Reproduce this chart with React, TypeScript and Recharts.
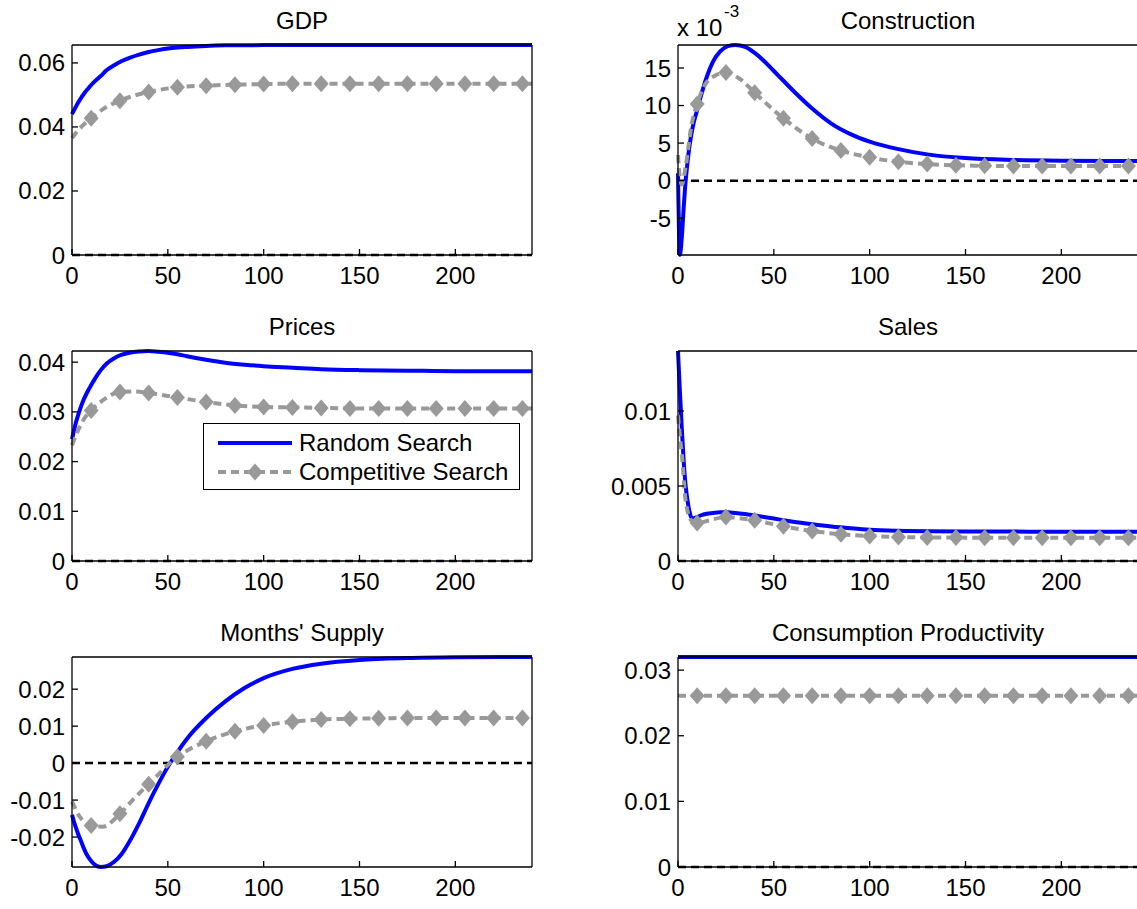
import { LineChart, Line, XAxis, YAxis, ReferenceLine, Legend } from 'recharts';

// time grids (months)
const tFine = [0, 1, 2, 3, 4, 5, 6, 7, 8, 10, 12, 15, 18, 22, 26, 30, 35, 40, 45, 50, 55, 60, 70, 80, 90, 100, 115, 130, 150, 175, 200, 240];
const tComp = [0, 1, 2, 4, 7, 10, 16, 25, 32, 40, 55, 70, 85, 100, 115, 130, 145, 160, 175, 190, 205, 220, 235, 240];
const markT = [10, 25, 40, 55, 70, 85, 100, 115, 130, 145, 160, 175, 190, 205, 220, 235];
const tFlat = [0, 240];
const xTicks = [0, 50, 100, 150, 200];

// GDP
const gdpRandom = [0.0440, 0.0452, 0.0463, 0.0474, 0.0484, 0.0493, 0.0502, 0.0510, 0.0517, 0.0531, 0.0543, 0.0559, 0.0577, 0.0593, 0.0606, 0.0616, 0.0626, 0.0634, 0.0640, 0.0645, 0.0648, 0.0650, 0.0653, 0.0655, 0.0655, 0.0656, 0.0656, 0.0656, 0.0656, 0.0656, 0.0656, 0.0656];
const gdpCompetitive = [0.0365, 0.0373, 0.0381, 0.0395, 0.0412, 0.0427, 0.0455, 0.0482, 0.0497, 0.0509, 0.0524, 0.0529, 0.0532, 0.0534, 0.0535, 0.0535, 0.0535, 0.0535, 0.0535, 0.0535, 0.0535, 0.0535, 0.0535, 0.0535];

// Construction
const constructionRandom = [0.0010, -0.0099, -0.0075, -0.0035, 0.0000, 0.0025, 0.0046, 0.0062, 0.0075, 0.0094, 0.0113, 0.0138, 0.0157, 0.0172, 0.0179, 0.01806, 0.0178, 0.0170, 0.0159, 0.0146, 0.0133, 0.0120, 0.0096, 0.0076, 0.0062, 0.0052, 0.0042, 0.0035, 0.0030, 0.00275, 0.00265, 0.0026];
const constructionCompetitive = [0.0034, 0.0003, -0.0005, 0.0019, 0.0073, 0.0102, 0.0134, 0.0144, 0.0136, 0.0117, 0.0083, 0.0056, 0.0040, 0.0031, 0.0025, 0.0022, 0.00205, 0.00198, 0.00195, 0.00195, 0.00195, 0.00195, 0.00195, 0.00195];

// Prices
const pricesRandom = [0.0245, 0.0262, 0.0278, 0.0291, 0.0303, 0.0314, 0.0324, 0.0332, 0.0340, 0.0354, 0.0367, 0.0384, 0.0397, 0.0408, 0.0415, 0.0419, 0.04215, 0.04225, 0.0421, 0.0419, 0.0416, 0.0412, 0.0405, 0.0399, 0.0395, 0.0392, 0.0389, 0.0386, 0.0384, 0.0383, 0.0382, 0.0382];
const pricesCompetitive = [0.0233, 0.0243, 0.0252, 0.0270, 0.0290, 0.0303, 0.0323, 0.0340, 0.0341, 0.0338, 0.0329, 0.0320, 0.0313, 0.0310, 0.0309, 0.0308, 0.0307, 0.0307, 0.0307, 0.0307, 0.0307, 0.0307, 0.0307, 0.0307];

// Sales
const salesRandom = [0.0140, 0.0113, 0.0088, 0.0066, 0.0050, 0.0040, 0.0033, 0.0029, 0.00285, 0.00293, 0.00305, 0.00315, 0.0032, 0.00325, 0.00325, 0.0032, 0.00313, 0.00303, 0.00293, 0.00283, 0.00272, 0.00262, 0.00245, 0.0023, 0.00218, 0.00208, 0.00201, 0.00198, 0.00197, 0.00196, 0.00195, 0.00195];
const salesCompetitive = [0.0097, 0.0083, 0.0071, 0.0040, 0.0027, 0.00253, 0.0027, 0.00293, 0.00285, 0.00271, 0.00231, 0.0020, 0.00178, 0.00167, 0.0016, 0.00157, 0.00156, 0.00155, 0.00155, 0.00155, 0.00155, 0.00155, 0.00155, 0.00155];

// Months' Supply
const supplyRandom = [-0.0140, -0.0158, -0.0174, -0.0189, -0.0202, -0.0215, -0.0228, -0.0240, -0.0250, -0.0265, -0.0275, -0.0281, -0.0279, -0.0267, -0.0245, -0.0212, -0.0163, -0.0108, -0.0057, -0.0010, 0.0030, 0.0066, 0.0122, 0.0167, 0.0203, 0.0230, 0.0255, 0.0269, 0.0279, 0.0284, 0.0286, 0.0287];
const supplyCompetitive = [-0.0104, -0.0115, -0.0126, -0.0145, -0.0161, -0.0169, -0.0172, -0.0137, -0.0098, -0.0057, 0.0017, 0.0059, 0.0086, 0.0102, 0.0112, 0.0118, 0.0120, 0.0121, 0.0122, 0.0122, 0.0122, 0.0122, 0.0122, 0.0122];

// Consumption Productivity
const consumptionRandom = [0.0320, 0.0320];
const consumptionCompetitive = [0.0261, 0.0261, 0.0261, 0.0261, 0.0261, 0.0261, 0.0261, 0.0261, 0.0261, 0.0261, 0.0261, 0.0261, 0.0261, 0.0261, 0.0261, 0.0261, 0.0261, 0.0261, 0.0261, 0.0261, 0.0261, 0.0261, 0.0261, 0.0261];

const FONT = '"Liberation Sans", Arial, Helvetica, sans-serif';
const FS = 24;
const BLUE = '#0000ff';
const GRAY = '#999999';
const PW = 460; // plot width
const PH = 210; // plot height
const YW = 80; // y axis width
const XH = 40; // x axis height
const M = 6;

const markSet = new Set(markT);

const Diamond = (props: any) => {
    const { cx, cy, payload, index } = props;
    if (cx == null || cy == null || !markSet.has(payload.t)) return <g key={`n-${index}`} />;
    return (
        <path
            key={`d-${index}`}
            d={`M${cx},${cy - 8.5}L${cx + 7.5},${cy}L${cx},${cy + 8.5}L${cx - 7.5},${cy}Z`}
            fill={GRAY}
        />
    );
};

const LegendBox = (props: any) => {
    // blue (random) first, like the figure; skip the hidden helper line
    const items = (props.payload || [])
        .filter((e: any) => e.type !== 'none')
        .sort((a: any, b: any) => (a.color === BLUE ? -1 : b.color === BLUE ? 1 : 0));
    return (
        <div
            style={{
                width: 317,
                height: 67,
                border: '1.3px solid #000',
                boxSizing: 'border-box',
                background: '#fff',
                fontFamily: FONT,
                fontSize: FS,
                paddingTop: 4,
            }}
        >
            {items.map((entry: any, i: number) => (
                <div key={i} style={{ display: 'flex', alignItems: 'center', height: 29 }}>
                    <svg width={95} height={20} style={{ flex: 'none' }}>
                        {entry.color === BLUE ? (
                            <line x1={14} x2={88} y1={10} y2={10} stroke={entry.color} strokeWidth={4} />
                        ) : (
                            <g>
                                <line x1={14} x2={88} y1={10} y2={10} stroke={entry.color} strokeWidth={4} strokeDasharray="8 5" />
                                <path d="M51,1.5L58.5,10L51,18.5L43.5,10Z" fill={entry.color} />
                            </g>
                        )}
                    </svg>
                    <span style={{ color: '#000' }}>{entry.value}</span>
                </div>
            ))}
        </div>
    );
};

const plain = (v: number) => String(v);
const milli = (v: number) => String(Math.round(v * 1000));

type PanelProps = {
    title: string;
    left: number;
    top: number;
    randomT: number[];
    random: number[];
    competitive: number[];
    domain: [number, number];
    yTicks: number[];
    fmt: (v: number) => string;
    legend?: boolean;
    exponent?: boolean;
};

const axisLine = { stroke: '#000', strokeWidth: 1.3 };
const tickStyle = { fill: '#000', fontSize: FS, fontFamily: FONT };

const Panel = ({ title, left, top, randomT, random, competitive, domain, yTicks, fmt, legend, exponent }: PanelProps) => {
    const randomData = randomT.map((t, i) => ({ t, v: random[i] }));
    const competitiveData = tComp.map((t, i) => ({ t, v: competitive[i] }));
    return (
        <>
            <div
                style={{
                    position: 'absolute',
                    left,
                    top: top - 37,
                    width: PW,
                    textAlign: 'center',
                    fontSize: FS,
                    lineHeight: '26px',
                    fontFamily: FONT,
                }}
            >
                {title}
            </div>
            {exponent && (
                <>
                    <div style={{ position: 'absolute', left: left - 1, top: top - 30, fontSize: FS, lineHeight: '26px', fontFamily: FONT }}>
                        x 10
                    </div>
                    <div style={{ position: 'absolute', left: left + 46, top: top - 43, fontSize: 17, lineHeight: '20px', fontFamily: FONT }}>
                        -3
                    </div>
                </>
            )}
            <div style={{ position: 'absolute', left: left - YW, top: top - M }}>
                <LineChart width={YW + PW + M} height={M + PH + XH} margin={{ top: M - 1, right: M - 1, bottom: 0, left: 0 }}>
                    <XAxis
                        type="number"
                        dataKey="t"
                        domain={[0, 240]}
                        ticks={xTicks}
                        height={XH}
                        axisLine={axisLine}
                        tickLine={axisLine}
                        tickSize={-6}
                        tickMargin={18}
                        tick={tickStyle}
                    />
                    <XAxis
                        xAxisId="top"
                        orientation="top"
                        type="number"
                        dataKey="t"
                        domain={[0, 240]}
                        ticks={xTicks}
                        height={1}
                        axisLine={axisLine}
                        tickLine={axisLine}
                        tickSize={-6}
                        tick={false}
                    />
                    <YAxis
                        type="number"
                        domain={domain}
                        ticks={yTicks}
                        width={YW}
                        axisLine={axisLine}
                        tickLine={axisLine}
                        tickSize={-6}
                        tickMargin={13}
                        tick={tickStyle}
                        tickFormatter={fmt}
                    />
                    <YAxis
                        yAxisId="right"
                        orientation="right"
                        type="number"
                        domain={domain}
                        ticks={yTicks}
                        width={1}
                        axisLine={axisLine}
                        tickLine={axisLine}
                        tickSize={-6}
                        tick={false}
                    />
                    {/* invisible copy so the top / right box axes get drawn */}
                    <Line
                        xAxisId="top"
                        yAxisId="right"
                        data={randomData}
                        dataKey="v"
                        stroke="none"
                        dot={false}
                        legendType="none"
                        isAnimationActive={false}
                    />
                    <ReferenceLine y={0} stroke="#000" strokeWidth={2.5} strokeDasharray="8 5" />
                    <Line
                        data={randomData}
                        dataKey="v"
                        name="Random Search"
                        type="monotone"
                        stroke={BLUE}
                        strokeWidth={4}
                        dot={false}
                        isAnimationActive={false}
                    />
                    <Line
                        data={competitiveData}
                        dataKey="v"
                        name="Competitive Search"
                        type="monotone"
                        stroke={GRAY}
                        strokeWidth={4}
                        strokeDasharray="8 5"
                        dot={Diamond}
                        isAnimationActive={false}
                    />
                    {legend && (
                        <Legend
                            layout="horizontal"
                            verticalAlign="middle"
                            align="center"
                            wrapperStyle={{ left: 211, top: 78, width: 317 }}
                            content={LegendBox}
                        />
                    )}
                </LineChart>
            </div>
        </>
    );
};

const LEFT_COL = 72;
const RIGHT_COL = 678;
const ROWS = [45, 351, 657];

const App = () => {
    return (
        <div
            style={{
                position: 'absolute',
                left: 0,
                top: 0,
                width: 1137,
                height: 909,
                overflow: 'hidden',
                background: '#fff',
                fontFamily: FONT,
            }}
        >
            <Panel title="GDP" left={LEFT_COL} top={ROWS[0]} randomT={tFine} random={gdpRandom} competitive={gdpCompetitive} domain={[0, 0.0656]} yTicks={[0, 0.02, 0.04, 0.06]} fmt={plain} />
            <Panel title="Construction" left={RIGHT_COL} top={ROWS[0]} randomT={tFine} random={constructionRandom} competitive={constructionCompetitive} domain={[-0.0099, 0.01806]} yTicks={[-0.005, 0, 0.005, 0.01, 0.015]} fmt={milli} exponent />
            <Panel title="Prices" left={LEFT_COL} top={ROWS[1]} randomT={tFine} random={pricesRandom} competitive={pricesCompetitive} domain={[0, 0.04225]} yTicks={[0, 0.01, 0.02, 0.03, 0.04]} fmt={plain} legend />
            <Panel title="Sales" left={RIGHT_COL} top={ROWS[1]} randomT={tFine} random={salesRandom} competitive={salesCompetitive} domain={[0, 0.014]} yTicks={[0, 0.005, 0.01]} fmt={plain} />
            <Panel title="Months' Supply" left={LEFT_COL} top={ROWS[2]} randomT={tFine} random={supplyRandom} competitive={supplyCompetitive} domain={[-0.0281, 0.0287]} yTicks={[-0.02, -0.01, 0, 0.01, 0.02]} fmt={plain} />
            <Panel title="Consumption Productivity" left={RIGHT_COL} top={ROWS[2]} randomT={tFlat} random={consumptionRandom} competitive={consumptionCompetitive} domain={[0, 0.032]} yTicks={[0, 0.01, 0.02, 0.03]} fmt={plain} />
        </div>
    );
};

export default App;
